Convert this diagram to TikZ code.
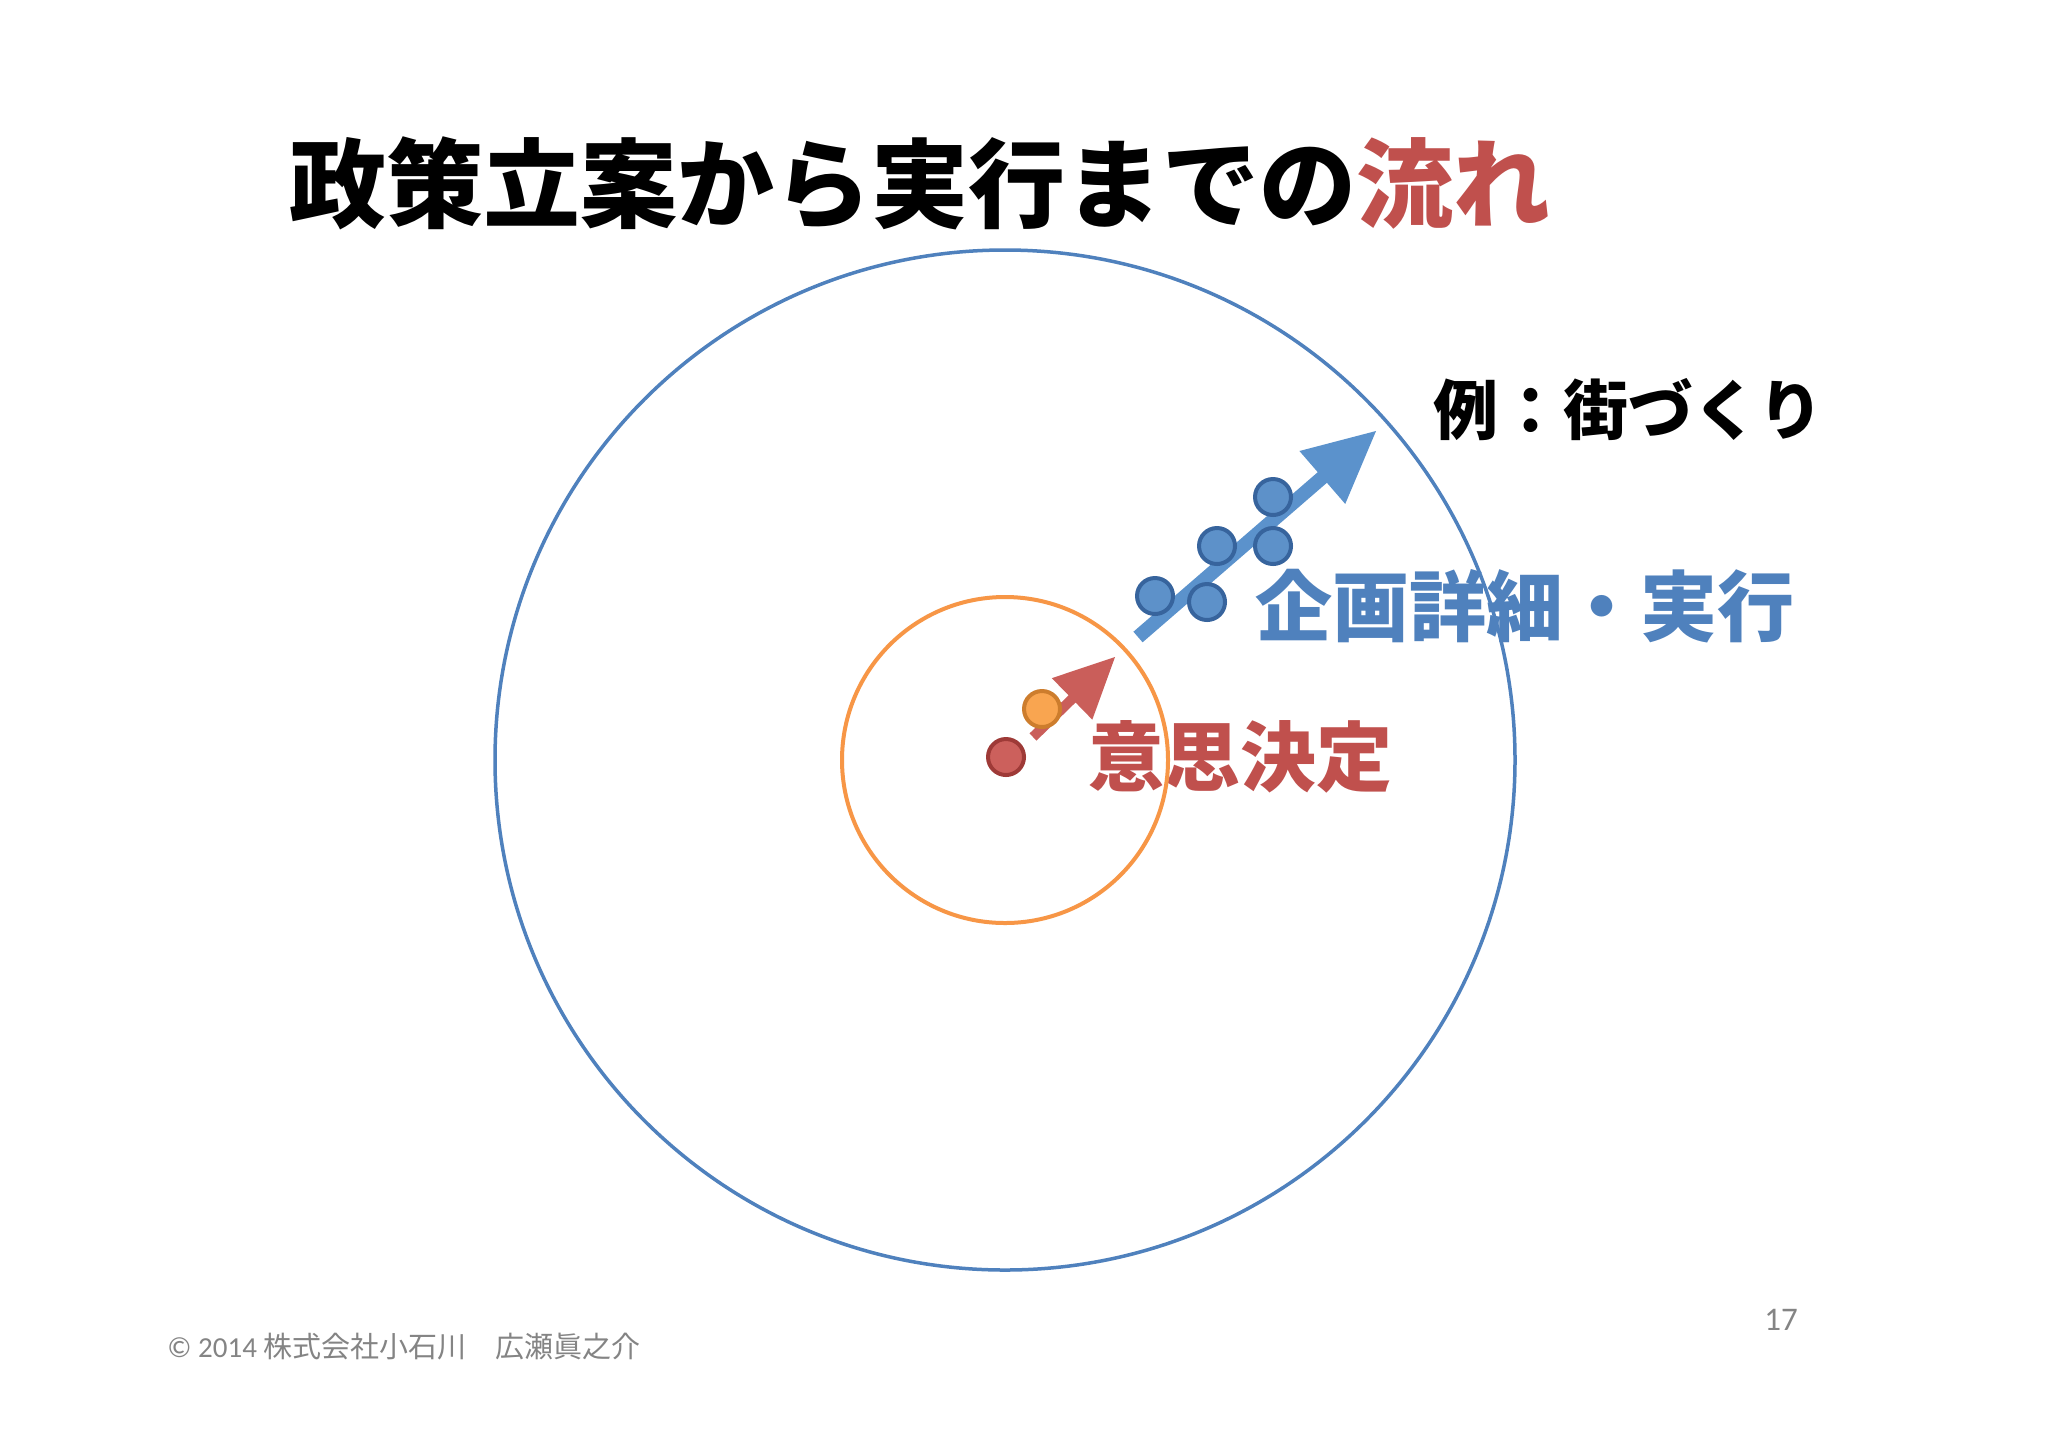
\documentclass[tikz,border=0pt]{standalone}
\usepackage{fontspec}
\usetikzlibrary{calc}
\newfontfamily\cjkblack{Noto Sans CJK JP Black}
\newfontfamily\cjk{Noto Sans CJK JP}
\newfontfamily\calib{Carlito}
\definecolor{bluec}{RGB}{79,129,189}
\definecolor{orangec}{RGB}{247,150,70}
\definecolor{redtext}{RGB}{192,80,77}
\definecolor{arrowred}{RGB}{202,94,90}
\definecolor{reddotfill}{RGB}{204,96,92}
\definecolor{reddotdraw}{RGB}{158,58,55}
\definecolor{orangedotfill}{RGB}{249,165,80}
\definecolor{orangedotdraw}{RGB}{205,125,45}
\definecolor{arrowblue}{RGB}{91,146,204}
\definecolor{bluedotfill}{RGB}{93,145,201}
\definecolor{bluedotdraw}{RGB}{55,100,157}
\definecolor{footgray}{RGB}{132,132,132}
\newcommand\flowarrow[6]{%
  \coordinate (hb) at ($(#2)!#4!(#1)$);
  \fill[#6] ($(#1)!#3!90:(#2)$) -- ($(hb)!#3!90:(#2)$) -- ($(hb)!#5!90:(#2)$) -- (#2)
    -- ($(hb)!#5!-90:(#2)$) -- ($(hb)!#3!-90:(#2)$) -- ($(#1)!#3!-90:(#2)$) -- cycle;
}
\tikzset{
  dot/.style={circle, draw, line width=2pt, minimum size=18pt, inner sep=0pt},
  reddot/.style={dot, fill=reddotfill, draw=reddotdraw},
  orangedot/.style={dot, fill=orangedotfill, draw=orangedotdraw},
  bluedot/.style={dot, fill=bluedotfill, draw=bluedotdraw},
  lbl/.style={inner sep=0pt, anchor=center},
}
\begin{document}
\begin{tikzpicture}[x=0.5pt,y=-0.5pt]
\useasboundingbox (0,0) rectangle (2048,1447);
\fill[white] (0,0) rectangle (2048,1447);
% texts
\node[lbl] (title) at (920,183) {\cjkblack\fontsize{48.5pt}{50pt}\selectfont 政策立案から実行までの\textcolor{redtext}{流れ}};
\node[lbl] (ex) at (1628,410) {\cjkblack\fontsize{32.5pt}{34pt}\selectfont 例：街づくり};
\node[lbl, text=bluec] (plan) at (1525,606) {\cjkblack\fontsize{38.5pt}{40pt}\selectfont 企画詳細・実行};
\node[lbl, text=redtext] (decide) at (1240,757) {\cjkblack\fontsize{38pt}{40pt}\selectfont 意思決定};
\node[inner sep=0pt, anchor=west, text=footgray] (foot) at (167,1347) {\fontsize{14.5pt}{16pt}\selectfont{\calib © 2014 }{\cjk 株式会社小石川　広瀬眞之介}};
\node[lbl, text=footgray] (page) at (1781,1320) {\calib\fontsize{16.5pt}{18pt}\selectfont 17};
% circles
\coordinate (ctr) at (1005,760);
\draw[bluec, line width=1.75pt] (ctr) circle[radius=255pt];
\draw[orangec, line width=2pt] (ctr) circle[radius=81.5pt];
% arrows
\coordinate (rt) at (1033,737);
\coordinate (rp) at (1115,657);
\flowarrow{rt}{rp}{2.5pt}{30pt}{14.5pt}{arrowred}
\coordinate (bt) at (1138,637);
\coordinate (bp) at (1376,431);
\flowarrow{bt}{bp}{3.5pt}{35.5pt}{17.5pt}{arrowblue}
% dots
\node[reddot] (rd) at (1006,757) {};
\node[orangedot] (od) at (1042,709) {};
\node[bluedot] (b1) at (1155,596) {};
\node[bluedot] (b2) at (1207,602) {};
\node[bluedot] (b3) at (1217,546) {};
\node[bluedot] (b4) at (1273,546) {};
\node[bluedot] (b5) at (1273,497) {};
\end{tikzpicture}
\end{document}
